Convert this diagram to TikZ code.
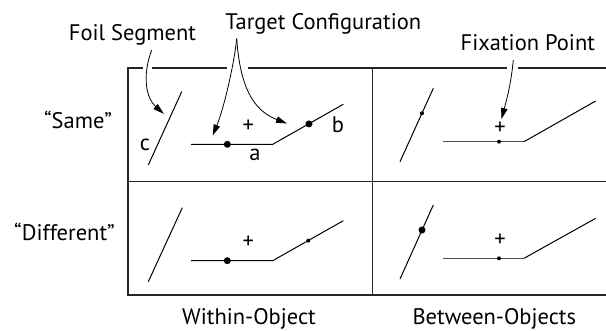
\documentclass[tikz,border=0pt]{standalone}
\usepackage{fontspec}
\setmainfont{PT Sans}
\usetikzlibrary{arrows.meta}
\begin{document}
\begin{tikzpicture}[x=1pt,y=-1pt,
  lbl/.style={inner sep=0pt,anchor=base,font=\fontsize{22.5}{26}\selectfont},
  plus/.style={inner sep=0pt,font=\fontsize{22.5}{26}\selectfont},
  frame/.style={line width=1.1pt,black!85},
  seg/.style={line width=1pt,black},
  seggray/.style={line width=1.1pt,black!70},
  bigdot/.style={circle,fill=black,inner sep=0pt,minimum size=7pt},
  smalldot/.style={circle,fill=black,inner sep=0pt,minimum size=4pt},
  callout/.style={line width=0.8pt,-{Triangle[length=11pt,width=6.5pt]}}]
\useasboundingbox (0,0) rectangle (606,330);

% frame
\draw[frame] (142.7,68) -- (128,68) -- (128,295) -- (606,295);
\draw[frame] (151.7,68) -- (226.7,68);
\draw[frame] (248,68) -- (506.7,68);
\draw[frame] (518.3,68) -- (606,68);
\draw[frame] (128,181.7) -- (606,181.7);
\draw[frame] (372.5,68) -- (372.5,295);

% labels
\node[lbl] (foil) at (132.5,40) {Foil Segment};
\node[lbl] (target) at (323.3,29.5) {Target Configuration};
\node[lbl] (fix) at (527.8,50) {Fixation Point};
\node[lbl] (same) at (78,128) {“Same”};
\node[lbl] (diff) at (64.5,240) {“Different”};
\node[lbl] (within) at (249,324) {Within-Object};
\node[lbl] (between) at (494.3,324) {Between-Objects};

% Same / Within
\draw[seg] (181.7,91.7) -- (148.3,165);
\draw[seg] (191,144.3) -- (272.7,144.3) -- (343.3,104.3);
\node[bigdot] (a1) at (227.3,144.3) {};
\node[bigdot] (b1) at (309,123.9) {};
\node[plus] (p1) at (248.3,126.7) {+};
\node[lbl] (la) at (255,160) {a};
\node[lbl] (lb) at (338,132) {b};
\node[lbl] (lc) at (145,150.5) {c};

% Different / Within
\draw[seg] (182.3,207.7) -- (148.3,281.7);
\draw[seg] (191,260.7) -- (272.7,260.7) -- (343.3,220.7);
\node[bigdot] (a2) at (227.3,260.7) {};
\node[smalldot] (b2) at (308.3,240.6) {};
\node[plus] (p2) at (248.3,242.7) {+};

% Same / Between
\draw[seg] (433.3,88.3) -- (400,161.7);
\node[smalldot] (c3) at (422,113.3) {};
\draw[seggray] (442.7,141.7) -- (524,141.7);
\draw[seg] (524,141.7) -- (595.7,101);
\node[smalldot] (a3) at (499,141.7) {};
\node[plus] (p3) at (500,128.3) {+};

% Different / Between
\draw[seg] (433.3,205) -- (400,279);
\node[bigdot] (c4) at (422,230) {};
\draw[seggray] (443,258.3) -- (524,258.3);
\draw[seg] (524,258.3) -- (595.7,218.3);
\node[smalldot] (a4) at (499,258.3) {};
\node[plus] (p4) at (500,240) {+};

% callout arrows
\coordinate (foilS) at (151.7,50);
\coordinate (foilE) at (163.8,113.8);
\coordinate (tgS) at (236.7,38.5);
\coordinate (tgL) at (212.7,135.5);
\coordinate (tgR) at (287,123.5);
\coordinate (fixS) at (513.3,60);
\coordinate (fixE) at (501.5,119);
\draw[callout] (foilS) .. controls (142,76) and (146,98) .. (foilE);
\draw[callout] (tgS) .. controls (234,65) and (224,108) .. (tgL);
\draw[callout] (tgS) .. controls (240,85) and (252,110) .. (tgR);
\draw[callout] (fixS) .. controls (511,85) and (506,102) .. (fixE);
\end{tikzpicture}
\end{document}
